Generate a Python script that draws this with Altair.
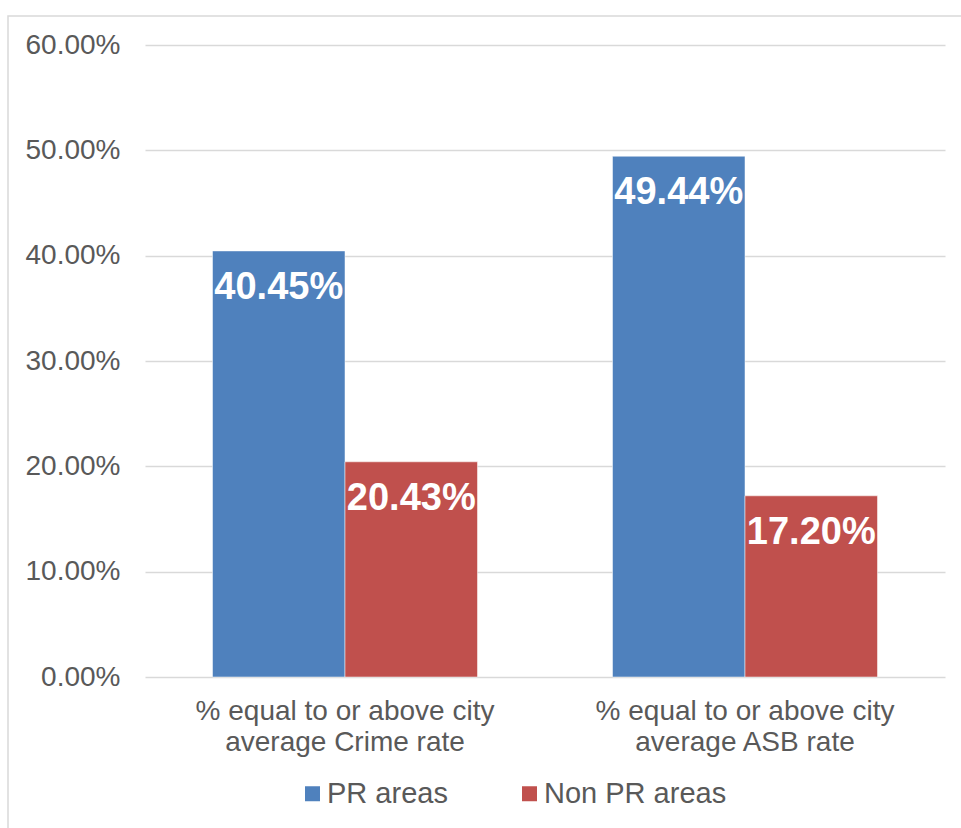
import altair as alt
import pandas as pd

categories = ["% equal to or above city average Crime rate",
              "% equal to or above city average ASB rate"]
series = ["PR areas", "Non PR areas"]
pr_values = [0.4045, 0.4944]
non_pr_values = [0.2043, 0.1720]
colors = ["#4F81BD", "#C0504D"]

rows = []
for i, c in enumerate(categories):
    rows.append({"category": c, "series": series[0], "value": pr_values[i]})
    rows.append({"category": c, "series": series[1], "value": non_pr_values[i]})
df = pd.DataFrame(rows)

FONT = "Liberation Sans"
GRAY = "#595959"

x_enc = alt.X("category:N", sort=categories, title=None,
              scale=alt.Scale(paddingInner=0.3375, paddingOuter=0.16875),
              axis=alt.Axis(labelAngle=0, domain=False, ticks=False,
                            labelFontSize=28, labelColor=GRAY, labelFont=FONT,
                            labelPadding=20, labelLineHeight=31, labelLimit=0,
                            labelExpr="[slice(datum.label, 0, 24), slice(datum.label, 25)]"))
xo_enc = alt.XOffset("series:N", sort=series,
                     scale=alt.Scale(paddingInner=0, paddingOuter=0))
y_enc = alt.Y("value:Q", title=None,
              scale=alt.Scale(domain=[0, 0.6], nice=False),
              axis=alt.Axis(values=[0, 0.1, 0.2, 0.3, 0.4, 0.5, 0.6], format=".2%",
                            domain=False, ticks=False, grid=True,
                            gridColor="#d9d9d9", gridWidth=1.3,
                            labelFontSize=28, labelColor=GRAY, labelFont=FONT,
                            labelPadding=25))
color_enc = alt.Color("series:N", sort=series,
                      scale=alt.Scale(domain=series, range=colors),
                      legend=alt.Legend(title=None, orient="none", direction="horizontal",
                                        legendX=153, legendY=734,
                                        symbolType="square", symbolSize=225,
                                        symbolStrokeWidth=0, labelLimit=0,
                                        labelFontSize=29, labelColor=GRAY, labelFont=FONT,
                                        labelOffset=0, columnPadding=67))

bars = alt.Chart(df).mark_bar(stroke="white", strokeWidth=0.5).encode(
    x=x_enc, xOffset=xo_enc, y=y_enc, color=color_enc
)

labels = alt.Chart(df).mark_text(
    color="white", fontWeight="bold", fontSize=38, font=FONT,
    baseline="alphabetic", dy=48
).encode(
    x=alt.X("category:N", sort=categories),
    xOffset=alt.XOffset("series:N", sort=series),
    y="value:Q",
    text=alt.Text("value:Q", format=".2%")
)

frame = alt.Chart(pd.DataFrame({"a": [0]})).mark_rect(
    fill=None, stroke="#d9d9d9", strokeWidth=1.5
).encode(
    x=alt.value(-137), x2=alt.value(900), y=alt.value(-29), y2=alt.value(900)
)

chart = alt.layer(frame, bars, labels).properties(
    width=800, height=632,
    autosize=alt.AutoSizeParams(type="none"),
    padding={"left": 145, "top": 45, "right": 16, "bottom": 151},
    background="white"
).configure_view(stroke=None)

chart.save("out.html", embed_options={"renderer": "svg", "actions": False})
